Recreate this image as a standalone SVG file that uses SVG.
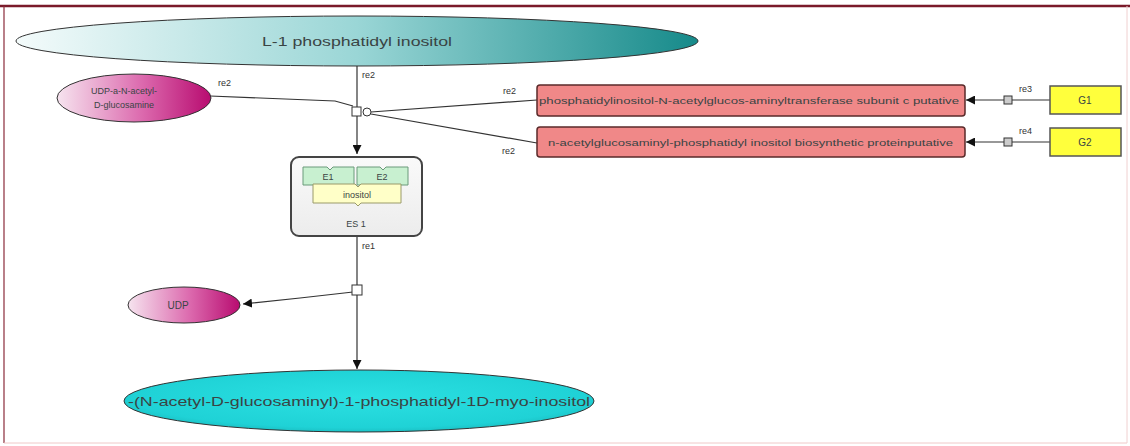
<svg xmlns="http://www.w3.org/2000/svg" width="1130" height="446" viewBox="0 0 1130 446">
<defs>
<linearGradient id="gTeal" x1="0" y1="0" x2="1" y2="0">
<stop offset="0" stop-color="#f4fbfb"/><stop offset="0.5" stop-color="#9ad6d6"/><stop offset="1" stop-color="#168a8a"/>
</linearGradient>
<linearGradient id="gPink" x1="0" y1="0" x2="1" y2="0">
<stop offset="0" stop-color="#f6e4ef"/><stop offset="0.55" stop-color="#dc6aae"/><stop offset="1" stop-color="#b80c70"/>
</linearGradient>
<radialGradient id="gCyan" cx="0.5" cy="0.45" r="0.6">
<stop offset="0" stop-color="#2be0e2"/><stop offset="0.8" stop-color="#1fd2d6"/><stop offset="1" stop-color="#18b8bc"/>
</radialGradient>
<linearGradient id="gCx" x1="0" y1="0" x2="0" y2="1">
<stop offset="0" stop-color="#fafafa"/><stop offset="1" stop-color="#ececec"/>
</linearGradient>
<marker id="arr" viewBox="0 0 10 10" refX="10" refY="5" markerWidth="9" markerHeight="9" markerUnits="userSpaceOnUse" orient="auto">
<path d="M0,0 L10,5 L0,10 z" fill="#111"/>
</marker>
<style>
.ln{fill:none;stroke:#333;stroke-width:1.2}
.lbl{font-family:"Liberation Sans",Arial,sans-serif;font-size:9px;fill:#333}
.t{font-family:"Liberation Sans",Arial,sans-serif;fill:#3a4444}
.red{fill:#f08888;stroke:#5a2a2a;stroke-width:1.5}
.yel{fill:#ffff3c;stroke:#555;stroke-width:1.5}
.sq{fill:#fff;stroke:#333;stroke-width:1}
</style>
</defs>
<rect x="0" y="0" width="1130" height="446" fill="#fff"/>
<g id="frame">
<line x1="0" y1="6" x2="1130" y2="6" stroke="#7a1a2a" stroke-width="2.5"/>
<line x1="4" y1="6" x2="4" y2="443" stroke="#8a2a3a" stroke-width="1.2"/>
<line x1="4" y1="443" x2="1127" y2="443" stroke="#f0c8c8" stroke-width="1"/>
<line x1="1127" y1="6" x2="1127" y2="443" stroke="#f0d0d0" stroke-width="1"/>
</g>
<g id="connectors">
<line class="ln" x1="357" y1="66" x2="357" y2="154" marker-end="url(#arr)"/>
<polyline class="ln" points="210,96 335,101 353,106"/>
<line class="ln" x1="371" y1="112" x2="537" y2="100"/>
<line class="ln" x1="371" y1="114" x2="537" y2="143"/>
<circle cx="367" cy="112" r="4" fill="#fff" stroke="#333" stroke-width="1"/>
<rect class="sq" x="352" y="107" width="9" height="9"/>
<line class="ln" x1="357" y1="236" x2="357" y2="369" marker-end="url(#arr)"/>
<polyline class="ln" points="353,292 300,298 243,304" marker-end="url(#arr)"/>
<rect class="sq" x="352" y="285" width="10" height="10"/>
<line class="ln" x1="1050" y1="100" x2="966" y2="100" marker-end="url(#arr)"/>
<rect x="1004" y="96" width="8" height="8" fill="#ccc" stroke="#333" stroke-width="1"/>
<line class="ln" x1="1050" y1="142" x2="966" y2="142" marker-end="url(#arr)"/>
<rect x="1004" y="138" width="8" height="8" fill="#ccc" stroke="#333" stroke-width="1"/>
<text class="lbl" x="218" y="86">re2</text>
<text class="lbl" x="362" y="78">re2</text>
<text class="lbl" x="503" y="94">re2</text>
<text class="lbl" x="502" y="154">re2</text>
<text class="lbl" x="1019" y="92">re3</text>
<text class="lbl" x="1019" y="134">re4</text>
<text class="lbl" x="362" y="249">re1</text>
</g>
<g id="n_pi">
<ellipse cx="357" cy="41" rx="341" ry="25" fill="url(#gTeal)" stroke="#333" stroke-width="1"/>
<text class="t" x="357" y="46" font-size="13" text-anchor="middle" textLength="190" lengthAdjust="spacingAndGlyphs">L-1 phosphatidyl inositol</text>
</g>
<g id="n_udpglc">
<ellipse cx="134" cy="98" rx="77" ry="24" fill="url(#gPink)" stroke="#333" stroke-width="1"/>
<text class="t" x="124" y="94" font-size="9" text-anchor="middle">UDP-a-N-acetyl-</text>
<text class="t" x="124" y="108" font-size="9" text-anchor="middle">D-glucosamine</text>
</g>
<g id="n_enz1">
<rect class="red" x="537" y="85" width="428" height="31" rx="3"/>
<text class="t" x="539" y="104" font-size="9.5" textLength="420" lengthAdjust="spacingAndGlyphs">phosphatidylinositol-N-acetylglucos-aminyltransferase subunit c putative</text>
</g>
<g id="n_enz2">
<rect class="red" x="537" y="127" width="428" height="30" rx="3"/>
<text class="t" x="548" y="146" font-size="9.5" textLength="405" lengthAdjust="spacingAndGlyphs">n-acetylglucosaminyl-phosphatidyl inositol biosynthetic proteinputative</text>
</g>
<g id="n_g1">
<rect class="yel" x="1050" y="86" width="71" height="28"/>
<text class="t" x="1085" y="104" font-size="10" text-anchor="middle">G1</text>
</g>
<g id="n_g2">
<rect class="yel" x="1050" y="128" width="71" height="28"/>
<text class="t" x="1085" y="146" font-size="10" text-anchor="middle">G2</text>
</g>
<g id="n_es1">
<rect x="291" y="157" width="131" height="79" rx="8" fill="url(#gCx)" stroke="#444" stroke-width="2"/>
<path d="M303,167 L327,167 L330,170 L333,167 L354,167 L354,185 L303,185 z" fill="#c8f0d0" stroke="#6a9a7a" stroke-width="1"/>
<path d="M357,167 L380,167 L383,170 L386,167 L408,167 L408,185 L357,185 z" fill="#c8f0d0" stroke="#6a9a7a" stroke-width="1"/>
<path d="M313,184 L355,184 L358,187 L361,184 L401,184 L401,203 L361,203 L358,206 L355,203 L313,203 z" fill="#ffffc8" stroke="#9a9a6a" stroke-width="1"/>
<text class="t" x="328" y="180" font-size="9" text-anchor="middle">E1</text>
<text class="t" x="382" y="180" font-size="9" text-anchor="middle">E2</text>
<text class="t" x="357" y="198" font-size="9" text-anchor="middle">inositol</text>
<text class="t" x="356" y="227" font-size="9" text-anchor="middle">ES 1</text>
</g>
<g id="n_udp">
<ellipse cx="184" cy="305" rx="56" ry="18" fill="url(#gPink)" stroke="#333" stroke-width="1"/>
<text class="t" x="178" y="309" font-size="10" text-anchor="middle">UDP</text>
</g>
<g id="n_prod">
<ellipse cx="359" cy="401" rx="235" ry="31" fill="url(#gCyan)" stroke="#333" stroke-width="1"/>
<text class="t" x="359" y="406" font-size="13" text-anchor="middle" textLength="462" lengthAdjust="spacingAndGlyphs">-(N-acetyl-D-glucosaminyl)-1-phosphatidyl-1D-myo-inositol</text>
</g>
</svg>
